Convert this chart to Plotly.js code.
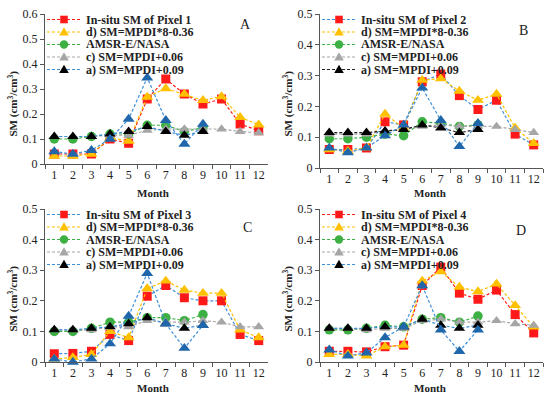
<!DOCTYPE html>
<html>
<head>
<meta charset="utf-8">
<script src="https://cdn.plot.ly/plotly-3.0.1.min.js"></script>
<style>html,body{margin:0;padding:0;background:#fff;}#chart{width:550px;height:399px;}</style>
</head>
<body>
<div id="chart"></div>
<script>
// ---------- DATA ----------
const months = ['1','2','3','4','5','6','7','8','9','10','11','12'];
const months9 = months.slice(0, 9);

const panelLetters = ['A', 'B', 'C', 'D'];
const legendNames = ['In-situ SM of Pixel ', 'd) SM=MPDI*8-0.36', 'AMSR-E/NASA', 'c) SM=MPDI+0.06', 'a) SM=MPDI+0.09'];

// Panel A (Pixel 1)
const insituA = [0.04, 0.04, 0.04, 0.10, 0.083, 0.26, 0.34, 0.28, 0.24, 0.26, 0.16, 0.133];
const dA      = [0.032, 0.032, 0.04, 0.105, 0.092, 0.268, 0.302, 0.28, 0.255, 0.27, 0.187, 0.157];
const amsrA   = [0.10, 0.10, 0.11, 0.12, 0.12, 0.155, 0.155, 0.13, 0.145];
const cA      = [0.11, 0.11, 0.11, 0.115, 0.115, 0.135, 0.14, 0.14, 0.14, 0.14, 0.13, 0.125];
const aA      = [0.11, 0.11, 0.11, 0.12, 0.13, 0.15, 0.13, 0.115, 0.13];
const bA      = [0.05, 0.04, 0.055, 0.10, 0.18, 0.345, 0.175, 0.08, 0.16];

// Panel B (Pixel 2)
const insituB = [0.06, 0.06, 0.065, 0.15, 0.14, 0.28, 0.305, 0.235, 0.19, 0.22, 0.11, 0.075];
const dB      = [0.06, 0.055, 0.065, 0.175, 0.13, 0.285, 0.29, 0.25, 0.22, 0.24, 0.13, 0.08];
const amsrB   = [0.095, 0.095, 0.10, 0.11, 0.105, 0.15, 0.145, 0.135, 0.14];
const cB      = [0.11, 0.11, 0.11, 0.12, 0.125, 0.135, 0.14, 0.135, 0.135, 0.135, 0.125, 0.115];
const aB      = [0.115, 0.115, 0.115, 0.12, 0.125, 0.14, 0.13, 0.115, 0.125];
const bB      = [0.065, 0.05, 0.065, 0.105, 0.14, 0.26, 0.155, 0.07, 0.145];

// Panel C (Pixel 3)
const insituC = [0.027, 0.028, 0.035, 0.09, 0.07, 0.215, 0.25, 0.21, 0.20, 0.20, 0.09, 0.07];
const dC      = [0.01, 0.015, 0.025, 0.10, 0.08, 0.24, 0.265, 0.235, 0.225, 0.225, 0.105, 0.08];
const amsrC   = [0.10, 0.10, 0.11, 0.13, 0.13, 0.145, 0.145, 0.135, 0.155];
const cC      = [0.105, 0.105, 0.105, 0.115, 0.115, 0.135, 0.13, 0.13, 0.135, 0.13, 0.115, 0.115];
const aC      = [0.105, 0.105, 0.11, 0.115, 0.125, 0.145, 0.125, 0.11, 0.12];
const bC      = [0.01, 0.0, 0.01, 0.06, 0.15, 0.29, 0.125, 0.045, 0.12];

// Panel D (Pixel 4)
const insituD = [0.035, 0.035, 0.033, 0.05, 0.055, 0.25, 0.31, 0.225, 0.205, 0.235, 0.155, 0.095];
const dD      = [0.025, 0.025, 0.02, 0.05, 0.055, 0.265, 0.295, 0.245, 0.23, 0.255, 0.185, 0.115];
const amsrD   = [0.105, 0.105, 0.11, 0.12, 0.115, 0.14, 0.145, 0.13, 0.15];
const cD      = [0.11, 0.11, 0.105, 0.11, 0.11, 0.135, 0.14, 0.13, 0.13, 0.135, 0.125, 0.12];
const aD      = [0.11, 0.11, 0.11, 0.115, 0.115, 0.14, 0.12, 0.11, 0.12];
const bD      = [0.04, 0.02, 0.03, 0.08, 0.115, 0.25, 0.105, 0.035, 0.105];

const yMax = [0.6, 0.5, 0.5, 0.5];

// ---------- STYLE ----------
const W = 550, H = 399;
const RED = '#ff1a1a', ORANGE = '#ffc000', GREEN = '#3cb043', GRAY = '#a6a6a6',
      BLACK = '#000000', BLUE_M = '#1f66aa', BLUE_L = '#3d8fd8', DARK = '#222222';
const insituLine = [RED, BLUE_L, BLUE_L, RED];
const aLine = [BLUE_L, DARK, BLUE_L, BLUE_L];

// pixel boxes of each plot area: [x0, x1, yTop, yBottom]
const boxes = [[45, 268, 14, 164], [320, 543, 14, 168], [45, 268, 209, 362], [320, 543, 209, 362]];
const origins = [[0, 0], [275, 0], [0, 195], [275, 195]];
const px = x => x / W, py = y => 1 - y / H;

const series = [
  [insituA, dA, amsrA, cA, aA, bA],
  [insituB, dB, amsrB, cB, aB, bB],
  [insituC, dC, amsrC, cC, aC, bC],
  [insituD, dD, amsrD, cD, aD, bD]
];

const FONT = 'Liberation Serif, Times New Roman, serif';
const traces = [];
const layout = {
  width: W, height: H, margin: {l: 0, r: 0, t: 0, b: 0},
  paper_bgcolor: '#fff', plot_bgcolor: 'rgba(0,0,0,0)',
  showlegend: false, font: {family: FONT, size: 12, color: DARK},
  shapes: [], annotations: []
};

series.forEach((s, p) => {
  const sfx = p === 0 ? '' : String(p + 1);
  const xa = 'x' + sfx, ya = 'y' + sfx;
  const dash = '3px,2px';
  const mk = (x, y, lineColor, sym, mColor, size) => ({
    type: 'scatter', mode: 'lines+markers', x: x, y: y, xaxis: xa, yaxis: ya,
    line: {color: lineColor, width: 1.2, dash: dash},
    marker: {symbol: sym, color: mColor, size: size, line: {width: 0}},
    cliponaxis: false, hoverinfo: 'skip'
  });
  traces.push(mk(months, s[0], insituLine[p], 'square', RED, 9));
  traces.push(mk(months, s[1], ORANGE, 'triangle-up', ORANGE, 10.5));
  traces.push(mk(months9, s[2], GREEN, 'circle', GREEN, 9.5));
  traces.push(mk(months, s[3], GRAY, 'triangle-up', GRAY, 9.5));
  traces.push(mk(months9, s[4], aLine[p], 'triangle-up', BLACK, 10));
  traces.push(mk(months9, s[5], BLUE_L, 'triangle-up', BLUE_M, 10.5));

  const b = boxes[p];
  layout['xaxis' + sfx] = {
    domain: [px(b[0]), px(b[1])], anchor: ya, type: 'category',
    categoryorder: 'array', categoryarray: months, range: [-0.5, 11.5],
    tickson: 'boundaries', ticks: 'outside', ticklen: 4, tickcolor: '#555', tickangle: 0,
    showline: true, linecolor: '#555', linewidth: 1, showgrid: false, zeroline: false,
    tickfont: {family: FONT, size: 12, color: DARK}, fixedrange: true
  };
  layout['yaxis' + sfx] = {
    domain: [py(b[3]), py(b[2])], anchor: xa, range: [0, yMax[p]], dtick: 0.1,
    tickformat: '.1~f', ticks: 'outside', ticklen: 4, tickcolor: '#555',
    showline: true, linecolor: '#555', linewidth: 1, showgrid: false, zeroline: false,
    tickfont: {family: FONT, size: 12, color: DARK}, fixedrange: true
  };

  const o = origins[p];
  // axis titles
  layout.annotations.push({
    xref: 'paper', yref: 'paper', x: px(o[0] + 12.5), y: py(o[1] + 104), text: 'SM (cm<sup>3</sup>/cm<sup>3</sup>)',
    textangle: -90, showarrow: false, xanchor: 'center', yanchor: 'middle',
    font: {family: FONT, size: 11, color: DARK, weight: 'bold'}
  });
  layout.annotations.push({
    xref: 'paper', yref: 'paper', x: px(b[0] + (b[1] - b[0]) / 2 + (p % 2 ? -2 : -4)), y: py(o[1] + 193), text: 'Month',
    showarrow: false, xanchor: 'center', yanchor: 'middle',
    font: {family: FONT, size: 11, color: DARK, weight: 'bold'}
  });
  // panel letter
  const letterPos = [[245.5, 25], [523, 30], [247, 227], [521, 230]][p];
  layout.annotations.push({
    xref: 'paper', yref: 'paper', x: px(letterPos[0]), y: py(letterPos[1]), text: panelLetters[p],
    showarrow: false, xanchor: 'center', yanchor: 'middle',
    font: {family: FONT, size: 14, color: DARK}
  });

  // manual legend
  const legLine = [insituLine[p], ORANGE, GREEN, GRAY, aLine[p]];
  const legMarkColor = [RED, ORANGE, GREEN, GRAY, BLACK];
  const legSym = ['square', 'tri', 'circle', 'tri', 'tri'];
  legendNames.forEach((nm, i) => {
    const cy = o[1] + 19.5 + i * 12.5;
    const lx0 = o[0] + 47, lx1 = o[0] + 82, mx = o[0] + 64;
    layout.shapes.push({type: 'line', xref: 'paper', yref: 'paper', x0: px(lx0), x1: px(lx1), y0: py(cy), y1: py(cy),
      line: {color: legLine[i], width: 1.2, dash: '3px,2px'}});
    const base = {xref: 'paper', yref: 'paper', xsizemode: 'pixel', ysizemode: 'pixel',
      xanchor: px(mx), yanchor: py(cy), fillcolor: legMarkColor[i], line: {width: 0}};
    if (legSym[i] === 'square') {
      layout.shapes.push(Object.assign({type: 'rect', x0: -3.8, x1: 3.8, y0: -3.8, y1: 3.8}, base));
    } else if (legSym[i] === 'circle') {
      layout.shapes.push(Object.assign({type: 'circle', x0: -4.2, x1: 4.2, y0: -4.2, y1: 4.2}, base));
    } else {
      layout.shapes.push(Object.assign({type: 'path', path: 'M -4.8,-3.6 L 4.8,-3.6 L 0,4.8 Z'}, base));
    }
    layout.annotations.push({
      xref: 'paper', yref: 'paper', x: px(o[0] + 85), y: py(cy), text: i === 0 ? nm + (p + 1) : nm,
      showarrow: false, xanchor: 'left', yanchor: 'middle', borderpad: 0,
      font: {family: FONT, size: 12, color: DARK, weight: 'bold'}
    });
  });
});

Plotly.newPlot('chart', traces, layout, {staticPlot: true, displayModeBar: false});
</script>
</body>
</html>
